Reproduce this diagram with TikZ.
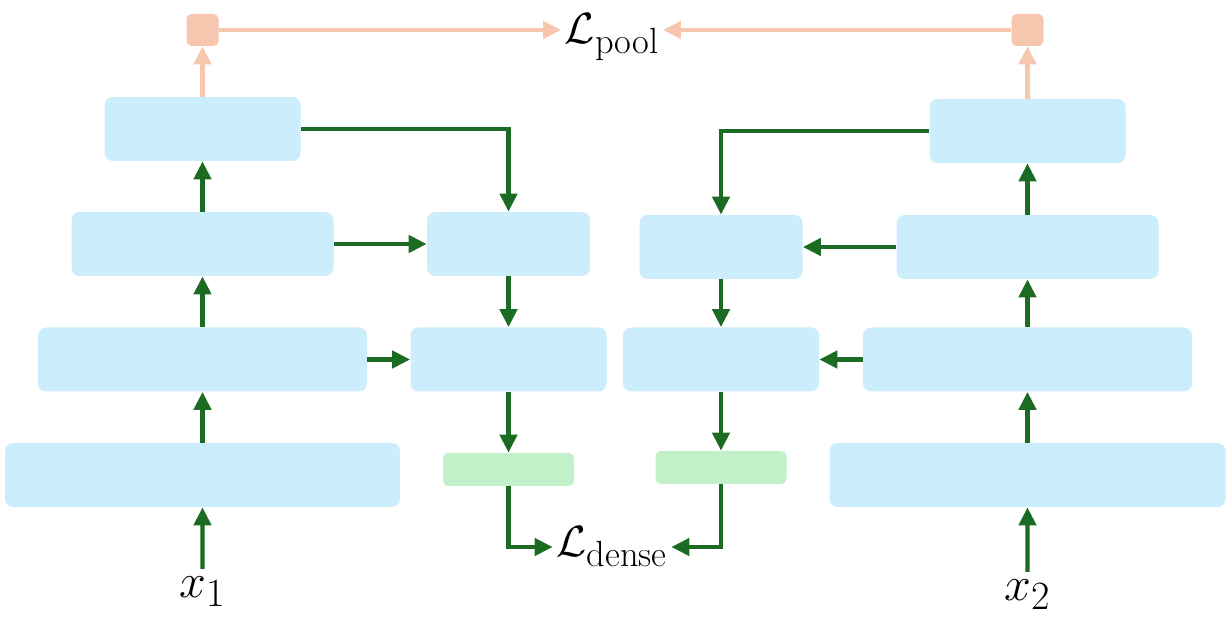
\documentclass[tikz,border=0pt]{standalone}
\usepackage{amsmath,amssymb}
\usepackage{tikz}
\usetikzlibrary{arrows.meta}
\usetikzlibrary{positioning}

\definecolor{blockblue}{RGB}{204,237,251}
\definecolor{blockgreen}{RGB}{194,240,200}
\definecolor{arrowgreen}{RGB}{27,107,35}
\definecolor{poolorange}{RGB}{246,198,174}

\begin{document}
\begin{tikzpicture}
	\useasboundingbox (0,0) rectangle (24.56,-12.54);
	% encoder blocks
	\begin{scope}[every node/.style = {rounded corners=0.16cm, fill=blockblue, inner sep=0pt, minimum height=1.28cm}]
		\node[minimum width=7.90cm] (L1) at (4.05,-9.50) {};
		\node[minimum width=6.58cm] (L2) at (4.05,-7.19) {};
		\node[minimum width=5.24cm] (L3) at (4.05,-4.88) {};
		\node[minimum width=3.92cm] (L4) at (4.05,-2.58) {};
		\node[minimum width=3.26cm] (M3) at (10.17,-4.88) {};
		\node[minimum width=3.92cm] (M2) at (10.17,-7.19) {};
		\node[minimum width=3.26cm] (N3) at (14.42,-4.94) {};
		\node[minimum width=3.92cm] (N2) at (14.42,-7.19) {};
		\node[minimum width=7.92cm] (R1) at (20.55,-9.50) {};
		\node[minimum width=6.58cm] (R2) at (20.55,-7.19) {};
		\node[minimum width=5.24cm] (R3) at (20.55,-4.94) {};
		\node[minimum width=3.92cm] (R4) at (20.55,-2.62) {};
	\end{scope}
	\begin{scope}[every node/.style = {rounded corners=0.1cm, fill=blockgreen, inner sep=0pt, minimum width=2.62cm, minimum height=0.66cm}]
		\node (G1) at (10.17,-9.39) {};
		\node (G2) at (14.42,-9.35) {};
	\end{scope}
	\begin{scope}[every node/.style = {rounded corners=0.1cm, fill=poolorange, inner sep=0pt, minimum size=0.64cm}]
		\node (P1) at (4.05,-0.60) {};
		\node (P2) at (20.55,-0.60) {};
	\end{scope}
	% labels
	\begin{scope}[every node/.style = {inner sep=2pt, font=\Huge}]
		\node (Lpool) at (12.24,-0.74) {$\mathcal{L}_{\text{\huge pool}}$};
		\node (Ldense) at (12.24,-10.94) {$\mathcal{L}_{\text{\huge dense}}$};
		\node[scale=1.1, inner sep=4pt] (x1) at (4.05,-11.84) {$x_1$};
		\node[scale=1.1, inner sep=4pt] (x2) at (20.55,-11.90) {$x_2$};
	\end{scope}
	% connections
	\begin{scope}[>={Triangle[length=0.36cm, width=0.34cm]},
			every edge/.style={draw=arrowgreen, line width=2.5pt}]
		\path [->] (x1) edge (L1);
		\path [->] (L1) edge (L2);
		\path [->] (L2) edge (L3);
		\path [->] (L3) edge (L4);
		\path [->] (x2) edge (R1);
		\path [->] (R1) edge (R2);
		\path [->] (R2) edge (R3);
		\path [->] (R3) edge (R4);
		\path [->] (L3) edge (M3);
		\path [->] (L2) edge (M2);
		\path [->] (R3) edge (N3);
		\path [->] (R2) edge (N2);
		\path [->] (M3) edge (M2);
		\path [->] (M2) edge (G1);
		\path [->] (N3) edge (N2);
		\path [->] (N2) edge (G2);
		\draw [->, arrowgreen, line width=2.5pt] (L4.east) -| (M3.north);
		\draw [->, arrowgreen, line width=2.5pt] (R4.west) -| (N3.north);
		\draw [->, arrowgreen, line width=2.5pt] (G1.south) |- (Ldense.west);
		\draw [->, arrowgreen, line width=2.5pt] (G2.south) |- (Ldense.east);
	\end{scope}
	\begin{scope}[>={Triangle[length=0.36cm, width=0.34cm]},
			every edge/.style={draw=poolorange, line width=2.5pt}]
		\path [->] (L4) edge (P1);
		\path [->] (R4) edge (P2);
		\path [->] (P1.east) edge (Lpool.west |- P1.east);
		\path [->] (P2.west) edge (Lpool.east |- P2.west);
	\end{scope}
\end{tikzpicture}
\end{document}
